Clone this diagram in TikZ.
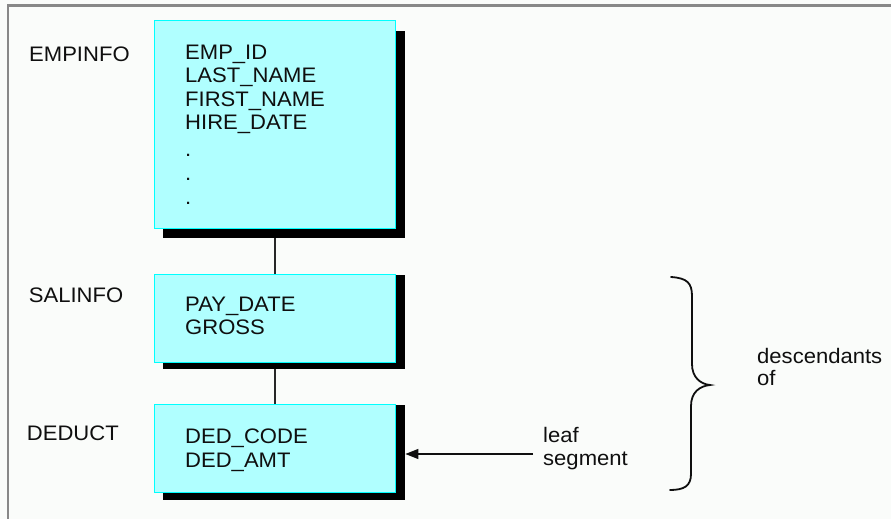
\documentclass[tikz,border=0pt]{standalone}
\usepackage{fontspec}
\setmainfont{Liberation Sans}[FakeStretch=1.05]
\usetikzlibrary{arrows.meta}
\definecolor{bg}{RGB}{250,252,250}
\definecolor{boxfill}{RGB}{176,255,255}
\definecolor{boxline}{RGB}{0,255,255}
\definecolor{framegray}{RGB}{136,136,136}
\definecolor{ink}{RGB}{15,15,15}
\begin{document}
\begin{tikzpicture}[x=1pt,y=-1pt,
  box/.style={draw=boxline, fill=boxfill, line width=1.2pt, minimum width=241pt, anchor=north west, inner sep=0pt},
  shadowbox/.style={fill=black, minimum width=242pt, anchor=north west, inner sep=0pt},
  txt/.style={anchor=north west, inner sep=0pt, text=ink, font=\fontsize{21}{23.3}\selectfont, align=left},
  conn/.style={draw=ink!90, line width=2.2pt},
  bracestyle/.style={draw=ink, line width=1.8pt, line cap=round}]
\fill[bg] (0,0) rectangle (891,519);
\useasboundingbox (0,0) rectangle (891,519);
% frame
\draw[framegray, line width=2.2pt] (7.6,519) -- (7.6,5.6) -- (891,5.6);
% shadows
\node[shadowbox, minimum height=207pt] (empsh) at (163,31) {};
\node[shadowbox, minimum height=93.5pt] (salsh) at (163,275) {};
\node[shadowbox, minimum height=95pt] (dedsh) at (163,405) {};
% boxes
\node[box, minimum height=208pt] (emp) at (153.5,20) {};
\node[box, minimum height=88.5pt] (sal) at (153.5,273.5) {};
\node[box, minimum height=88pt] (ded) at (153.5,404) {};
% box texts
\node[txt] (empfields) at (185,45) {EMP\_ID\\LAST\_NAME\\FIRST\_NAME\\HIRE\_DATE\\[3.3pt].\\[0.7pt].\\[0.7pt].};
\node[txt] (salfields) at (185,296.7) {PAY\_DATE\\GROSS};
\node[txt] (dedfields) at (185,429) {DED\_CODE\\DED\_AMT};
% labels
\node[txt] (emplabel) at (29,46.7) {EMPINFO};
\node[txt] (sallabel) at (28.7,287.3) {SALINFO};
\node[txt] (dedlabel) at (26.7,425.7) {DEDUCT};
\node[txt] (leaf) at (543,426.7) {leaf\\segment};
\node[txt, font=\fontsize{21}{22}\selectfont] (desc) at (757,348) {descendants\\of};
% connectors
\draw[conn] (emp.south |- empsh.south) -- (sal.north);
\draw[conn] (sal.south |- salsh.south) -- (ded.north);
\coordinate (leafend) at (533,454);
\draw[draw=ink, line width=1.4pt, -{Triangle[length=13pt,width=10pt]}] (leafend) -- (leafend -| dedsh.east);
% brace
\draw[bracestyle] (671,277) .. controls (687,278) and (692,283) .. (692,296) -- (692,364)
  .. controls (692,377) and (700,384) .. (710,385)
  .. controls (700,386) and (691,392) .. (691,406) -- (691,474)
  .. controls (691,486) and (684,490) .. (670,490);
\end{tikzpicture}
\end{document}
